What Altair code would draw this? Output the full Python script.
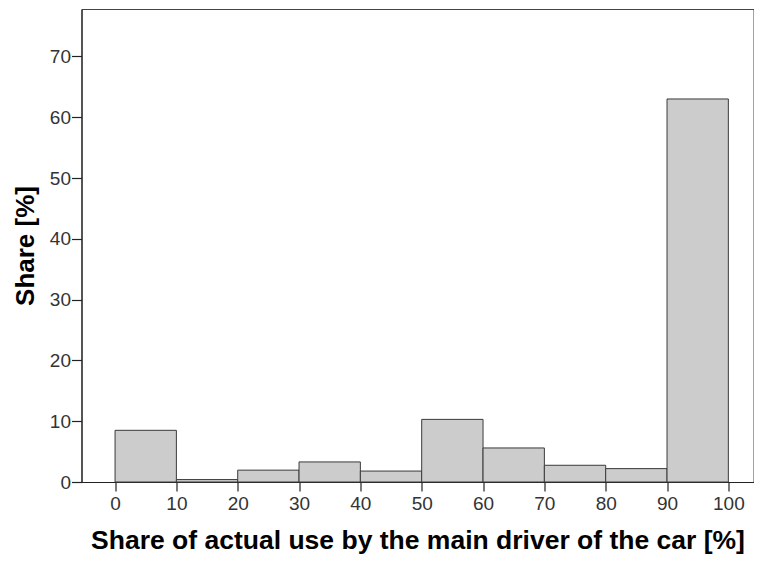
import altair as alt
import pandas as pd

bin_start = [0, 10, 20, 30, 40, 50, 60, 70, 80, 90]
bin_end = [10, 20, 30, 40, 50, 60, 70, 80, 90, 100]
share = [8.5, 0.4, 1.95, 3.3, 1.8, 10.3, 5.6, 2.75, 2.2, 63.0]
x_ticks = [0, 10, 20, 30, 40, 50, 60, 70, 80, 90, 100]
y_ticks = [0, 10, 20, 30, 40, 50, 60, 70]

df = pd.DataFrame({"start": bin_start, "end": bin_end, "share": share})

FONT = "Liberation Sans"

chart = alt.Chart(df).mark_rect(
    fill="#cccccc", stroke="#3a3a3a", strokeWidth=1
).encode(
    x=alt.X("start:Q",
            scale=alt.Scale(domain=[-5.47, 104.1], nice=False, zero=False),
            axis=alt.Axis(values=x_ticks, title="Share of actual use by the main driver of the car [%]",
                          grid=False, tickSize=9, labelPadding=3, labelFontSize=19,
                          titleFontSize=26.5, titleFontWeight="bold", titleY=66,
                          titleBaseline="alphabetic")),
    x2="end:Q",
    y=alt.Y("share:Q",
            scale=alt.Scale(domain=[0, 77.8], nice=False),
            axis=alt.Axis(values=y_ticks, title="Share [%]", grid=False, tickSize=10,
                          labelPadding=1, labelFontSize=19,
                          titleFontSize=26, titleFontWeight="bold", titleX=-48,
                          titleBaseline="alphabetic")),
    y2=alt.datum(0),
).properties(
    width=672, height=473,
    autosize=alt.AutoSizeParams(type="none"),
    padding={"left": 73.5, "top": 1, "right": 0, "bottom": 73},
).configure_view(
    stroke="#444444", strokeWidth=1
).configure_axis(
    domainColor="#222222", tickColor="#222222", labelColor="#333333",
    titleColor="#000000", labelFont=FONT, titleFont=FONT, domainWidth=1.2, tickWidth=1.2
)

chart.save("out.html", embed_options={"renderer": "svg", "actions": False})
